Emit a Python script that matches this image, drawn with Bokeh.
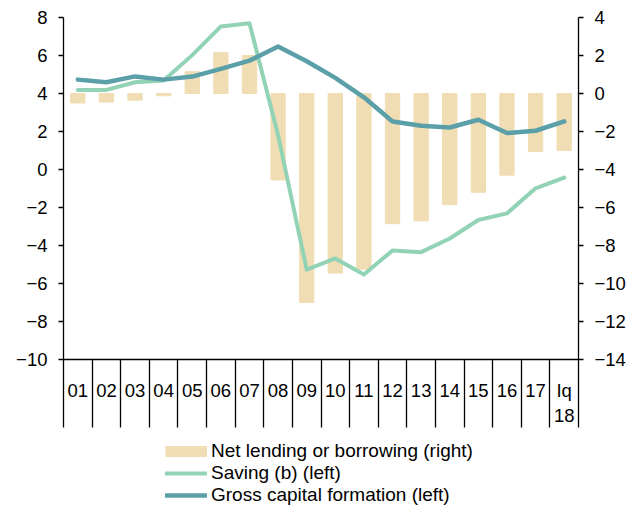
from bokeh.plotting import figure
from bokeh.models import (Range1d, LinearAxis, FixedTicker, Legend, LegendItem, ColumnDataSource)
from bokeh.layouts import column
from bokeh.embed import file_html
from bokeh.resources import INLINE

# ---- data ----
categories = ["01", "02", "03", "04", "05", "06", "07", "08", "09", "10",
              "11", "12", "13", "14", "15", "16", "17", "Iq\n18"]
net_lending = [-0.5, -0.45, -0.35, -0.12, 1.15, 2.15, 2.0, -4.55, -11.0, -9.45,
               -9.25, -6.85, -6.7, -5.85, -5.2, -4.3, -3.05, -3.0]
saving = [4.19, 4.19, 4.59, 4.68, 6.02, 7.53, 7.7, 1.8, -5.27, -4.68,
          -5.53, -4.26, -4.35, -3.63, -2.66, -2.31, -0.99, -0.43]
gcf = [4.73, 4.59, 4.9, 4.73, 4.89, 5.3, 5.73, 6.47, 5.7, 4.82,
       3.8, 2.53, 2.3, 2.21, 2.62, 1.92, 2.04, 2.53]
series_names = ["Net lending or borrowing (right)", "Saving (b) (left)",
                "Gross capital formation (left)"]
left_ticks = list(range(-10, 9, 2))
right_ticks = list(range(-14, 5, 2))

BAR = "#F0DDB4"
SAV = "#93D3B5"
GCF = "#5B9FA9"
FONT = "Liberation Sans"

n = len(categories)
idx = list(range(n))  # category index positions
src = ColumnDataSource(dict(x=idx, net=net_lending, sav=saving, gcf=gcf))

p = figure(width=633, height=440, x_range=Range1d(-0.5, n - 0.5),
           y_range=Range1d(-10, 8), output_backend="svg", toolbar_location=None,
           x_axis_type=None, min_border_left=63, min_border_right=55,
           min_border_top=17, min_border_bottom=81)
p.extra_y_ranges = {"right": Range1d(-14, 4)}
p.outline_line_color = None
p.xgrid.visible = False
p.ygrid.visible = False

p.vbar(x="x", top="net", bottom=0, width=0.5, color=BAR,
       y_range_name="right", source=src)
p.line("x", "sav", source=src, line_color=SAV, line_width=4,
       line_join="round", line_cap="round")
p.line("x", "gcf", source=src, line_color=GCF, line_width=4.5,
       line_join="round", line_cap="round")

def style_y(ax, ticks):
    ax.ticker = FixedTicker(ticks=ticks)
    ax.axis_line_color = "black"
    ax.axis_line_width = 1.3
    ax.major_tick_line_color = "black"
    ax.major_tick_line_width = 1.3
    ax.major_tick_in = 0
    ax.major_tick_out = 5
    ax.minor_tick_line_color = None
    ax.major_label_standoff = 11
    ax.major_label_text_font = FONT
    ax.major_label_text_font_size = "18.5px"
    ax.major_label_text_color = "black"

style_y(p.yaxis[0], left_ticks)
rax = LinearAxis(y_range_name="right")
style_y(rax, right_ticks)
p.add_layout(rax, "right")

xax = LinearAxis(ticker=FixedTicker(ticks=idx,
                                    minor_ticks=[i - 0.5 for i in range(n + 1)]))
xax.major_label_overrides = {i: categories[i] for i in idx}
xax.axis_line_color = "black"
xax.axis_line_width = 1.3
xax.major_tick_line_color = None
xax.major_tick_in = 0
xax.major_tick_out = 0
xax.minor_tick_line_color = "black"
xax.minor_tick_line_width = 1.3
xax.minor_tick_in = 0
xax.minor_tick_out = 68
xax.major_label_standoff = -48
xax.major_label_text_font = FONT
xax.major_label_text_font_size = "18.5px"
xax.major_label_text_color = "black"
p.add_layout(xax, "below")

# ---- legend strip ----
p2 = figure(width=633, height=66, x_range=Range1d(0, 1), y_range=Range1d(0, 1),
            output_backend="svg", toolbar_location=None, x_axis_type=None,
            y_axis_type=None, min_border_left=0, min_border_right=0,
            min_border_top=0, min_border_bottom=0)
p2.outline_line_color = None
p2.xgrid.visible = False
p2.ygrid.visible = False
k_bar = p2.line(x=[-5], y=[-5], line_color=BAR, line_width=11, line_cap="butt")
k_sav = p2.line(x=[-5], y=[-5], line_color=SAV, line_width=4, line_cap="round")
k_gcf = p2.line(x=[-5], y=[-5], line_color=GCF, line_width=4.5, line_cap="round")

legend = Legend(items=[
    LegendItem(label=series_names[0], renderers=[k_bar]),
    LegendItem(label=series_names[1], renderers=[k_sav]),
    LegendItem(label=series_names[2], renderers=[k_gcf]),
], location=(102, 0), orientation="vertical")
legend.border_line_color = None
legend.background_fill_alpha = 0
legend.padding = 0
legend.margin = 0
legend.spacing = 0
legend.glyph_width = 42
legend.glyph_height = 20
legend.label_height = 20
legend.label_standoff = 4
legend.label_text_font = FONT
legend.label_text_font_size = "19px"
legend.label_text_color = "black"
p2.add_layout(legend, "center")

layout = column(p, p2, spacing=0)
open("out.html", "w").write(file_html(layout, INLINE))
